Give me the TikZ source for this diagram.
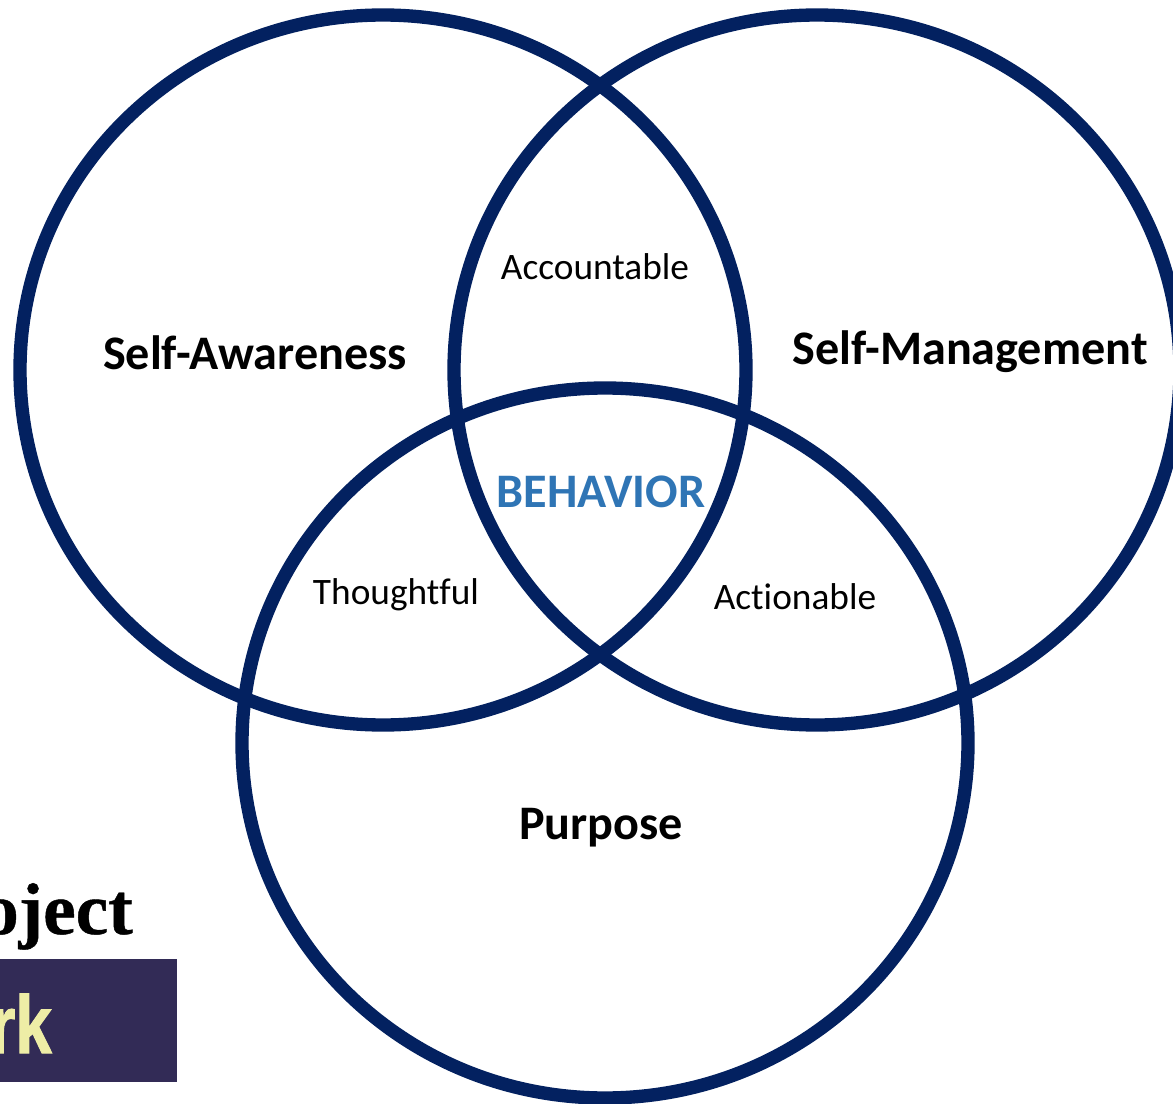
\documentclass[tikz,border=0pt]{standalone}
\usepackage{fontspec}
\setmainfont[Ligatures=NoCommon]{Carlito}
\newfontfamily\serifb[BoldFeatures={FakeBold=0.6}]{Liberation Serif}
\newfontfamily\sansb[BoldFeatures={FakeBold=1.5}]{Liberation Sans}
\definecolor{ringblue}{HTML}{032160}
\definecolor{behblue}{HTML}{2F75B5}
\definecolor{bandpurple}{HTML}{322B56}
\definecolor{bandyellow}{HTML}{EEEDA6}
\usetikzlibrary{shapes.geometric}
\tikzset{ring/.style={draw=ringblue,line width=8pt,ellipse,inner sep=0pt,minimum width=0.6pt*726,minimum height=0.6pt*710},
 big/.style={font=\fontsize{28.9}{32}\selectfont\bfseries,text=black},
 small/.style={font=\fontsize{22.4}{26}\selectfont,text=black}}
\begin{document}
\begin{tikzpicture}[x=0.6pt,y=-0.6pt]
\useasboundingbox (0,0) rectangle (1173,1104);
\begin{scope}
\clip (0,0) rectangle (1173,1104);
\node[ring] (sa) at (383,370) {};
\node[ring] (sm) at (817,370) {};
\node[ring] (pu) at (605,743) {};
\fill[bandpurple] (0,959) rectangle (177,1082);
\node[anchor=base east,inner sep=0pt,font=\serifb\fontsize{44}{48}\selectfont\bfseries,text=black] (pj) at (133,934) {oject};
\node[anchor=base east,inner sep=0pt,xscale=.8,font=\sansb\fontsize{49}{52}\selectfont\bfseries,text=bandyellow] (rk) at (52,1053) {rk};
\end{scope}
\node[big] (a) at (255,353) {Self-Awareness};
\node[big] (b) at (970,352) {Self-Management};
\node[big] (c) at (601,828) {Purpose};
\node[big,text=behblue] (d) at (601,492) {BEHAVIOR};
\node[small] (e) at (595,267) {Accountable};
\node[small] (f) at (396,595) {Thoughtful};
\node[small] (g) at (795,597) {Actionable};
\end{tikzpicture}
\end{document}
